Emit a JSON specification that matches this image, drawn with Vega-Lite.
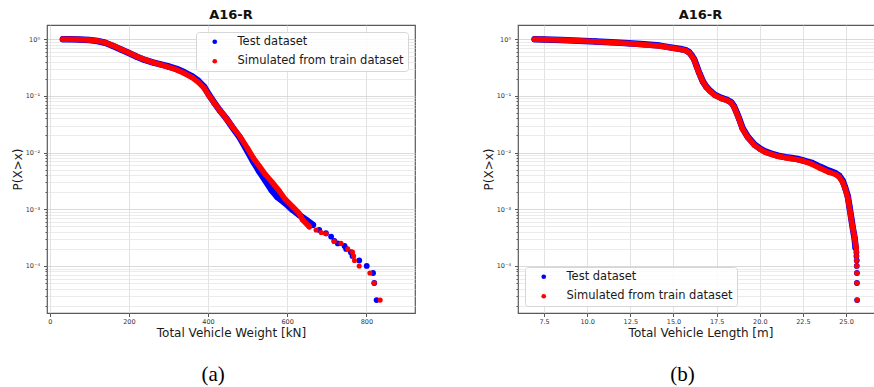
{
  "$schema": "https://vega.github.io/schema/vega-lite/v6.json",
  "padding": {"left": 10, "top": 8, "right": 0, "bottom": 0},
  "background": "white",
  "config": {
    "font": "DejaVu Sans",
    "view": {"stroke": "#595959", "strokeWidth": 1.2},
    "axis": {"labelFont": "DejaVu Sans", "labelFontSize": 6.5, "labelColor": "#333", "titleFont": "DejaVu Sans", "titleFontSize": 12, "titleFontWeight": "normal", "titleColor": "#1a1a1a", "tickColor": "#555", "tickSize": 3.5, "domain": false, "gridColor": "#dadada", "gridWidth": 0.8},
    "title": {"font": "DejaVu Sans", "fontSize": 13, "fontWeight": "bold", "color": "#111", "offset": 3},
    "legend": {"title": null, "labelFont": "DejaVu Sans", "labelFontSize": 11.5, "labelColor": "#1a1a1a", "symbolType": "circle", "symbolSize": 22, "symbolStrokeWidth": 0, "padding": 4, "symbolOffset": 9, "labelOffset": 17, "rowPadding": 6.5, "fillColor": "rgba(255,255,255,0.85)", "strokeColor": "#d6d6d6", "cornerRadius": 3, "offset": 7, "labelLimit": 300}
  },
  "datasets": {
    "weight": [
      {"series": "Test dataset", "x": 33, "p": 1.0},
      {"series": "Test dataset", "x": 50, "p": 0.995},
      {"series": "Test dataset", "x": 75, "p": 0.985},
      {"series": "Test dataset", "x": 100, "p": 0.965},
      {"series": "Test dataset", "x": 120, "p": 0.93},
      {"series": "Test dataset", "x": 140, "p": 0.865},
      {"series": "Test dataset", "x": 160, "p": 0.76},
      {"series": "Test dataset", "x": 180, "p": 0.66},
      {"series": "Test dataset", "x": 200, "p": 0.57},
      {"series": "Test dataset", "x": 220, "p": 0.49},
      {"series": "Test dataset", "x": 240, "p": 0.43},
      {"series": "Test dataset", "x": 260, "p": 0.39},
      {"series": "Test dataset", "x": 280, "p": 0.36},
      {"series": "Test dataset", "x": 300, "p": 0.33},
      {"series": "Test dataset", "x": 320, "p": 0.3},
      {"series": "Test dataset", "x": 340, "p": 0.26},
      {"series": "Test dataset", "x": 360, "p": 0.22},
      {"series": "Test dataset", "x": 375, "p": 0.185},
      {"series": "Test dataset", "x": 390, "p": 0.145},
      {"series": "Test dataset", "x": 402, "p": 0.105},
      {"series": "Test dataset", "x": 415, "p": 0.077},
      {"series": "Test dataset", "x": 430, "p": 0.055},
      {"series": "Test dataset", "x": 446, "p": 0.04},
      {"series": "Test dataset", "x": 463, "p": 0.027},
      {"series": "Test dataset", "x": 480, "p": 0.0185},
      {"series": "Test dataset", "x": 500, "p": 0.0105},
      {"series": "Test dataset", "x": 515, "p": 0.0068},
      {"series": "Test dataset", "x": 530, "p": 0.0046},
      {"series": "Test dataset", "x": 545, "p": 0.0032},
      {"series": "Test dataset", "x": 560, "p": 0.0022},
      {"series": "Test dataset", "x": 575, "p": 0.00165},
      {"series": "Test dataset", "x": 595, "p": 0.00128},
      {"series": "Test dataset", "x": 614, "p": 0.00097},
      {"series": "Test dataset", "x": 631, "p": 0.00079},
      {"series": "Test dataset", "x": 648, "p": 0.00065},
      {"series": "Test dataset", "x": 665, "p": 0.00053},
      {"series": "Test dataset", "x": 681, "p": 0.00043},
      {"series": "Test dataset", "x": 698, "p": 0.000377},
      {"series": "Test dataset", "x": 711, "p": 0.00033},
      {"series": "Test dataset", "x": 719, "p": 0.000275},
      {"series": "Test dataset", "x": 728, "p": 0.00025},
      {"series": "Test dataset", "x": 745, "p": 0.000225},
      {"series": "Test dataset", "x": 749, "p": 0.0002},
      {"series": "Test dataset", "x": 761, "p": 0.000175},
      {"series": "Test dataset", "x": 765, "p": 0.00015},
      {"series": "Test dataset", "x": 782, "p": 0.000125},
      {"series": "Test dataset", "x": 801, "p": 0.0001},
      {"series": "Test dataset", "x": 817, "p": 0.000075},
      {"series": "Test dataset", "x": 820, "p": 0.00005},
      {"series": "Test dataset", "x": 826, "p": 0.000025},
      {"series": "Simulated from train dataset", "x": 33, "p": 1.0},
      {"series": "Simulated from train dataset", "x": 50, "p": 0.995},
      {"series": "Simulated from train dataset", "x": 75, "p": 0.985},
      {"series": "Simulated from train dataset", "x": 100, "p": 0.965},
      {"series": "Simulated from train dataset", "x": 120, "p": 0.935},
      {"series": "Simulated from train dataset", "x": 140, "p": 0.87},
      {"series": "Simulated from train dataset", "x": 160, "p": 0.77},
      {"series": "Simulated from train dataset", "x": 180, "p": 0.665},
      {"series": "Simulated from train dataset", "x": 200, "p": 0.575},
      {"series": "Simulated from train dataset", "x": 220, "p": 0.495},
      {"series": "Simulated from train dataset", "x": 240, "p": 0.435},
      {"series": "Simulated from train dataset", "x": 260, "p": 0.39},
      {"series": "Simulated from train dataset", "x": 280, "p": 0.355},
      {"series": "Simulated from train dataset", "x": 300, "p": 0.32},
      {"series": "Simulated from train dataset", "x": 320, "p": 0.29},
      {"series": "Simulated from train dataset", "x": 340, "p": 0.25},
      {"series": "Simulated from train dataset", "x": 360, "p": 0.21},
      {"series": "Simulated from train dataset", "x": 375, "p": 0.175},
      {"series": "Simulated from train dataset", "x": 390, "p": 0.138},
      {"series": "Simulated from train dataset", "x": 402, "p": 0.102},
      {"series": "Simulated from train dataset", "x": 415, "p": 0.076},
      {"series": "Simulated from train dataset", "x": 430, "p": 0.055},
      {"series": "Simulated from train dataset", "x": 446, "p": 0.04},
      {"series": "Simulated from train dataset", "x": 463, "p": 0.0275},
      {"series": "Simulated from train dataset", "x": 480, "p": 0.0195},
      {"series": "Simulated from train dataset", "x": 500, "p": 0.0118},
      {"series": "Simulated from train dataset", "x": 515, "p": 0.0079},
      {"series": "Simulated from train dataset", "x": 530, "p": 0.0057},
      {"series": "Simulated from train dataset", "x": 545, "p": 0.0041},
      {"series": "Simulated from train dataset", "x": 562, "p": 0.003},
      {"series": "Simulated from train dataset", "x": 580, "p": 0.0021},
      {"series": "Simulated from train dataset", "x": 595, "p": 0.0015},
      {"series": "Simulated from train dataset", "x": 614, "p": 0.00111},
      {"series": "Simulated from train dataset", "x": 630, "p": 0.00085},
      {"series": "Simulated from train dataset", "x": 639, "p": 0.00065},
      {"series": "Simulated from train dataset", "x": 656, "p": 0.00049},
      {"series": "Simulated from train dataset", "x": 673, "p": 0.00043},
      {"series": "Simulated from train dataset", "x": 686, "p": 0.00039},
      {"series": "Simulated from train dataset", "x": 698, "p": 0.00037},
      {"series": "Simulated from train dataset", "x": 719, "p": 0.00027},
      {"series": "Simulated from train dataset", "x": 736, "p": 0.00025},
      {"series": "Simulated from train dataset", "x": 753, "p": 0.0002},
      {"series": "Simulated from train dataset", "x": 765, "p": 0.000175},
      {"series": "Simulated from train dataset", "x": 768, "p": 0.00015},
      {"series": "Simulated from train dataset", "x": 770, "p": 0.000125},
      {"series": "Simulated from train dataset", "x": 782, "p": 0.0001},
      {"series": "Simulated from train dataset", "x": 809, "p": 0.000075},
      {"series": "Simulated from train dataset", "x": 820, "p": 0.00005},
      {"series": "Simulated from train dataset", "x": 835, "p": 0.000025}
    ],
    "length": [
      {"series": "Test dataset", "x": 6.95, "p": 1.0},
      {"series": "Test dataset", "x": 7.5, "p": 0.99},
      {"series": "Test dataset", "x": 8.5, "p": 0.965},
      {"series": "Test dataset", "x": 9.5, "p": 0.94},
      {"series": "Test dataset", "x": 10.5, "p": 0.91},
      {"series": "Test dataset", "x": 11.4, "p": 0.88},
      {"series": "Test dataset", "x": 12.4, "p": 0.845},
      {"series": "Test dataset", "x": 13.3, "p": 0.81},
      {"series": "Test dataset", "x": 14.2, "p": 0.77},
      {"series": "Test dataset", "x": 14.9, "p": 0.71},
      {"series": "Test dataset", "x": 15.4, "p": 0.67},
      {"series": "Test dataset", "x": 15.7, "p": 0.64},
      {"series": "Test dataset", "x": 15.9, "p": 0.59},
      {"series": "Test dataset", "x": 16.05, "p": 0.52},
      {"series": "Test dataset", "x": 16.2, "p": 0.44},
      {"series": "Test dataset", "x": 16.35, "p": 0.33},
      {"series": "Test dataset", "x": 16.5, "p": 0.25},
      {"series": "Test dataset", "x": 16.7, "p": 0.18},
      {"series": "Test dataset", "x": 16.9, "p": 0.145},
      {"series": "Test dataset", "x": 17.1, "p": 0.125},
      {"series": "Test dataset", "x": 17.4, "p": 0.104},
      {"series": "Test dataset", "x": 17.8, "p": 0.091},
      {"series": "Test dataset", "x": 18.1, "p": 0.085},
      {"series": "Test dataset", "x": 18.35, "p": 0.077},
      {"series": "Test dataset", "x": 18.5, "p": 0.066},
      {"series": "Test dataset", "x": 18.65, "p": 0.052},
      {"series": "Test dataset", "x": 18.8, "p": 0.04},
      {"series": "Test dataset", "x": 19.0, "p": 0.027},
      {"series": "Test dataset", "x": 19.3, "p": 0.019},
      {"series": "Test dataset", "x": 19.7, "p": 0.0138},
      {"series": "Test dataset", "x": 20.0, "p": 0.0118},
      {"series": "Test dataset", "x": 20.3, "p": 0.0105},
      {"series": "Test dataset", "x": 20.7, "p": 0.0095},
      {"series": "Test dataset", "x": 21.05, "p": 0.0088},
      {"series": "Test dataset", "x": 21.5, "p": 0.0083},
      {"series": "Test dataset", "x": 21.85, "p": 0.008},
      {"series": "Test dataset", "x": 22.2, "p": 0.0077},
      {"series": "Test dataset", "x": 22.5, "p": 0.0073},
      {"series": "Test dataset", "x": 23.0, "p": 0.0066},
      {"series": "Test dataset", "x": 23.5, "p": 0.0056},
      {"series": "Test dataset", "x": 24.0, "p": 0.0048},
      {"series": "Test dataset", "x": 24.4, "p": 0.0043},
      {"series": "Test dataset", "x": 24.6, "p": 0.0039},
      {"series": "Test dataset", "x": 24.8, "p": 0.0032},
      {"series": "Test dataset", "x": 24.95, "p": 0.0024},
      {"series": "Test dataset", "x": 25.1, "p": 0.0017},
      {"series": "Test dataset", "x": 25.2, "p": 0.0011},
      {"series": "Test dataset", "x": 25.3, "p": 0.0007},
      {"series": "Test dataset", "x": 25.4, "p": 0.00045},
      {"series": "Test dataset", "x": 25.5, "p": 0.0003},
      {"series": "Test dataset", "x": 25.55, "p": 0.00021},
      {"series": "Test dataset", "x": 25.6, "p": 0.000175},
      {"series": "Test dataset", "x": 25.6, "p": 0.00015},
      {"series": "Test dataset", "x": 25.62, "p": 0.000125},
      {"series": "Test dataset", "x": 25.62, "p": 0.0001},
      {"series": "Test dataset", "x": 25.63, "p": 0.000075},
      {"series": "Test dataset", "x": 25.63, "p": 0.00005},
      {"series": "Test dataset", "x": 25.64, "p": 0.000025},
      {"series": "Simulated from train dataset", "x": 6.95, "p": 1.0},
      {"series": "Simulated from train dataset", "x": 7.5, "p": 0.99},
      {"series": "Simulated from train dataset", "x": 8.5, "p": 0.965},
      {"series": "Simulated from train dataset", "x": 9.5, "p": 0.94},
      {"series": "Simulated from train dataset", "x": 10.5, "p": 0.905},
      {"series": "Simulated from train dataset", "x": 11.4, "p": 0.875},
      {"series": "Simulated from train dataset", "x": 12.4, "p": 0.84},
      {"series": "Simulated from train dataset", "x": 13.3, "p": 0.8},
      {"series": "Simulated from train dataset", "x": 14.2, "p": 0.76},
      {"series": "Simulated from train dataset", "x": 14.9, "p": 0.7},
      {"series": "Simulated from train dataset", "x": 15.4, "p": 0.66},
      {"series": "Simulated from train dataset", "x": 15.7, "p": 0.63},
      {"series": "Simulated from train dataset", "x": 15.9, "p": 0.58},
      {"series": "Simulated from train dataset", "x": 16.05, "p": 0.51},
      {"series": "Simulated from train dataset", "x": 16.2, "p": 0.43},
      {"series": "Simulated from train dataset", "x": 16.35, "p": 0.32},
      {"series": "Simulated from train dataset", "x": 16.5, "p": 0.245},
      {"series": "Simulated from train dataset", "x": 16.7, "p": 0.178},
      {"series": "Simulated from train dataset", "x": 16.9, "p": 0.143},
      {"series": "Simulated from train dataset", "x": 17.1, "p": 0.122},
      {"series": "Simulated from train dataset", "x": 17.4, "p": 0.102},
      {"series": "Simulated from train dataset", "x": 17.8, "p": 0.089},
      {"series": "Simulated from train dataset", "x": 18.1, "p": 0.083},
      {"series": "Simulated from train dataset", "x": 18.35, "p": 0.075},
      {"series": "Simulated from train dataset", "x": 18.5, "p": 0.064},
      {"series": "Simulated from train dataset", "x": 18.65, "p": 0.05},
      {"series": "Simulated from train dataset", "x": 18.8, "p": 0.039},
      {"series": "Simulated from train dataset", "x": 19.0, "p": 0.026},
      {"series": "Simulated from train dataset", "x": 19.3, "p": 0.0185},
      {"series": "Simulated from train dataset", "x": 19.7, "p": 0.0134},
      {"series": "Simulated from train dataset", "x": 20.0, "p": 0.0115},
      {"series": "Simulated from train dataset", "x": 20.3, "p": 0.0102},
      {"series": "Simulated from train dataset", "x": 20.7, "p": 0.0093},
      {"series": "Simulated from train dataset", "x": 21.05, "p": 0.0086},
      {"series": "Simulated from train dataset", "x": 21.5, "p": 0.0081},
      {"series": "Simulated from train dataset", "x": 21.85, "p": 0.0078},
      {"series": "Simulated from train dataset", "x": 22.2, "p": 0.0075},
      {"series": "Simulated from train dataset", "x": 22.5, "p": 0.0071},
      {"series": "Simulated from train dataset", "x": 23.0, "p": 0.0063},
      {"series": "Simulated from train dataset", "x": 23.5, "p": 0.0053},
      {"series": "Simulated from train dataset", "x": 24.0, "p": 0.0045},
      {"series": "Simulated from train dataset", "x": 24.4, "p": 0.0041},
      {"series": "Simulated from train dataset", "x": 24.6, "p": 0.0037},
      {"series": "Simulated from train dataset", "x": 24.8, "p": 0.003},
      {"series": "Simulated from train dataset", "x": 24.95, "p": 0.0023},
      {"series": "Simulated from train dataset", "x": 25.1, "p": 0.0016},
      {"series": "Simulated from train dataset", "x": 25.2, "p": 0.00105},
      {"series": "Simulated from train dataset", "x": 25.3, "p": 0.00068},
      {"series": "Simulated from train dataset", "x": 25.4, "p": 0.00045},
      {"series": "Simulated from train dataset", "x": 25.5, "p": 0.00031},
      {"series": "Simulated from train dataset", "x": 25.57, "p": 0.00022},
      {"series": "Simulated from train dataset", "x": 25.6, "p": 0.0002},
      {"series": "Simulated from train dataset", "x": 25.6, "p": 0.000175},
      {"series": "Simulated from train dataset", "x": 25.61, "p": 0.00015},
      {"series": "Simulated from train dataset", "x": 25.6, "p": 0.000125},
      {"series": "Simulated from train dataset", "x": 25.61, "p": 0.0001},
      {"series": "Simulated from train dataset", "x": 25.62, "p": 0.000075},
      {"series": "Simulated from train dataset", "x": 25.62, "p": 0.00005},
      {"series": "Simulated from train dataset", "x": 25.64, "p": 0.000025}
    ]
  },
  "spacing": 65,
  "resolve": {"scale": {"color": "independent"}, "legend": {"color": "independent"}},
  "hconcat": [
    {
      "title": {"text": "(a)", "orient": "bottom", "anchor": "middle", "font": "Liberation Serif", "fontSize": 21, "fontWeight": "normal", "color": "#000", "offset": 25, "dx": 0},
      "resolve": {"scale": {"color": "independent"}, "legend": {"color": "independent"}},
      "vconcat": [
        {
          "title": "A16-R",
          "width": 368,
          "height": 288,
          "data": {"name": "weight"},
          "encoding": {
            "x": {"field": "x", "type": "quantitative", "scale": {"domain": [-7, 923], "nice": false, "zero": false}, "axis": {"title": "Total Vehicle Weight [kN]", "values": [0, 200, 400, 600, 800], "labelPadding": 1.5, "titlePadding": 3}},
            "y": {"field": "p", "type": "quantitative", "scale": {"type": "log", "domain": [1.479e-5, 1.778], "nice": false}, "axis": {"title": "P(X>x)", "values": [2e-5, 3e-5, 4e-5, 5e-5, 6e-5, 7e-5, 8e-5, 9e-5, 0.0001, 0.0002, 0.0003, 0.0004, 0.0005, 0.0006, 0.0007, 0.0008, 0.0009, 0.001, 0.002, 0.003, 0.004, 0.005, 0.006, 0.007, 0.008, 0.009, 0.01, 0.02, 0.03, 0.04, 0.05, 0.06, 0.07, 0.08, 0.09, 0.1, 0.2, 0.3, 0.4, 0.5, 0.6, 0.7, 0.8, 0.9, 1], "labelExpr": "datum.value == 1 ? '10⁰' : datum.value == 0.1 ? '10⁻¹' : datum.value == 0.01 ? '10⁻²' : datum.value == 0.001 ? '10⁻³' : datum.value == 0.0001 ? '10⁻⁴' : ''", "labelOverlap": false, "labelPadding": 4, "titlePadding": 1, "tickSize": {"condition": {"test": "datum.value == 1 || datum.value == 0.1 || datum.value == 0.01 || datum.value == 0.001 || datum.value == 0.0001", "value": 3.5}, "value": 2}, "gridColor": {"condition": {"test": "datum.value == 1 || datum.value == 0.1 || datum.value == 0.01 || datum.value == 0.001 || datum.value == 0.0001", "value": "#d0d0d0"}, "value": "#e6e6e6"}}}
          },
          "layer": [
            {"transform": [{"filter": "datum.series == 'Test dataset' && datum.p >= 0.00045"}], "mark": {"type": "line", "color": "#0000ff", "strokeWidth": 6.5, "strokeCap": "round", "strokeJoin": "round"}, "encoding": {"order": {"field": "p", "sort": "descending"}}},
            {"transform": [{"filter": "datum.series == 'Test dataset'"}], "mark": {"type": "point", "filled": true, "size": 34, "opacity": 1}, "encoding": {"color": {"field": "series", "type": "nominal", "scale": {"domain": ["Test dataset", "Simulated from train dataset"], "range": ["#0000ff", "#ff0000"]}, "legend": {"orient": "top-right"}}}},
            {"transform": [{"filter": "datum.series != 'Test dataset' && datum.p >= 0.00045"}], "mark": {"type": "line", "color": "#ff0000", "strokeWidth": 5.5, "strokeCap": "round", "strokeJoin": "round"}, "encoding": {"order": {"field": "p", "sort": "descending"}}},
            {"transform": [{"filter": "datum.series != 'Test dataset'"}], "mark": {"type": "point", "filled": true, "size": 26, "opacity": 1}, "encoding": {"color": {"field": "series", "type": "nominal", "scale": {"domain": ["Test dataset", "Simulated from train dataset"], "range": ["#0000ff", "#ff0000"]}, "legend": {"orient": "top-right"}}}}
          ]
        }
      ]
    },
    {
      "title": {"text": "(b)", "orient": "bottom", "anchor": "middle", "font": "Liberation Serif", "fontSize": 21, "fontWeight": "normal", "color": "#000", "offset": 25, "dx": 0},
      "resolve": {"scale": {"color": "independent"}, "legend": {"color": "independent"}},
      "vconcat": [
        {
          "title": "A16-R",
          "width": 365,
          "height": 288,
          "data": {"name": "length"},
          "encoding": {
            "x": {"field": "x", "type": "quantitative", "scale": {"domain": [5.99, 27.14], "nice": false, "zero": false}, "axis": {"title": "Total Vehicle Length [m]", "values": [7.5, 10, 12.5, 15, 17.5, 20, 22.5, 25], "format": ".1f", "labelPadding": 1.5, "titlePadding": 3}},
            "y": {"field": "p", "type": "quantitative", "scale": {"type": "log", "domain": [1.479e-5, 1.778], "nice": false}, "axis": {"title": "P(X>x)", "values": [2e-5, 3e-5, 4e-5, 5e-5, 6e-5, 7e-5, 8e-5, 9e-5, 0.0001, 0.0002, 0.0003, 0.0004, 0.0005, 0.0006, 0.0007, 0.0008, 0.0009, 0.001, 0.002, 0.003, 0.004, 0.005, 0.006, 0.007, 0.008, 0.009, 0.01, 0.02, 0.03, 0.04, 0.05, 0.06, 0.07, 0.08, 0.09, 0.1, 0.2, 0.3, 0.4, 0.5, 0.6, 0.7, 0.8, 0.9, 1], "labelExpr": "datum.value == 1 ? '10⁰' : datum.value == 0.1 ? '10⁻¹' : datum.value == 0.01 ? '10⁻²' : datum.value == 0.001 ? '10⁻³' : datum.value == 0.0001 ? '10⁻⁴' : ''", "labelOverlap": false, "labelPadding": 4, "titlePadding": 1, "tickSize": {"condition": {"test": "datum.value == 1 || datum.value == 0.1 || datum.value == 0.01 || datum.value == 0.001 || datum.value == 0.0001", "value": 3.5}, "value": 2}, "gridColor": {"condition": {"test": "datum.value == 1 || datum.value == 0.1 || datum.value == 0.01 || datum.value == 0.001 || datum.value == 0.0001", "value": "#d0d0d0"}, "value": "#e6e6e6"}}}
          },
          "layer": [
            {"transform": [{"filter": "datum.series == 'Test dataset' && datum.p >= 0.00021"}], "mark": {"type": "line", "color": "#0000ff", "strokeWidth": 6.5, "strokeCap": "round", "strokeJoin": "round"}, "encoding": {"order": {"field": "p", "sort": "descending"}}},
            {"transform": [{"filter": "datum.series == 'Test dataset'"}], "mark": {"type": "point", "filled": true, "size": 34, "opacity": 1}, "encoding": {"color": {"field": "series", "type": "nominal", "scale": {"domain": ["Test dataset", "Simulated from train dataset"], "range": ["#0000ff", "#ff0000"]}, "legend": {"orient": "bottom-left"}}}},
            {"transform": [{"filter": "datum.series != 'Test dataset' && datum.p >= 0.00021"}], "mark": {"type": "line", "color": "#ff0000", "strokeWidth": 5.5, "strokeCap": "round", "strokeJoin": "round"}, "encoding": {"order": {"field": "p", "sort": "descending"}}},
            {"transform": [{"filter": "datum.series != 'Test dataset'"}], "mark": {"type": "point", "filled": true, "size": 26, "opacity": 1}, "encoding": {"color": {"field": "series", "type": "nominal", "scale": {"domain": ["Test dataset", "Simulated from train dataset"], "range": ["#0000ff", "#ff0000"]}, "legend": {"orient": "bottom-left"}}}}
          ]
        }
      ]
    }
  ]
}
